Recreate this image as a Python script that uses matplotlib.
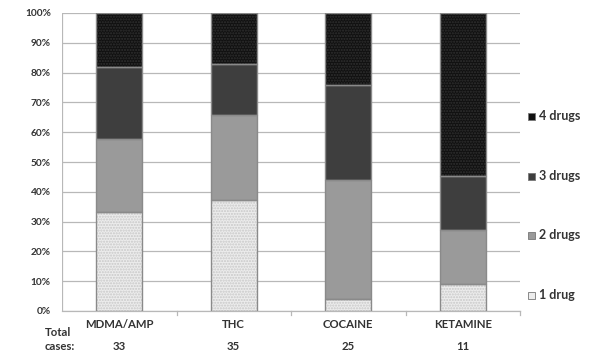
import matplotlib
matplotlib.use("Agg")
import matplotlib.pyplot as plt
import numpy as np

categories = ["MDMA/AMP", "THC", "COCAINE", "KETAMINE"]
totals = [33, 35, 25, 11]
one_drug = [11, 13, 1, 1]
two_drugs = [8, 10, 10, 2]
three_drugs = [8, 6, 8, 2]
four_drugs = [6, 6, 6, 6]
series_names = ["1 drug", "2 drugs", "3 drugs", "4 drugs"]

plt.rcParams['font.family'] = ['Lato', 'DejaVu Sans']

fig = plt.figure(figsize=(5.93, 3.59), dpi=100)
ax = fig.add_axes([62/593, 1-311/359, 458/593, 298/359])

series = [one_drug, two_drugs, three_drugs, four_drugs]
faces = ["#ececec", "#9a9a9a", "#3e3e3e", "#111111"]
hatchcols = ["#c8c8c8", "#8c8c8c", "#383838", "#303030"]
hatches = ["......", "", "", "......"]

x = np.arange(len(categories))
width = 0.40
bottom = np.zeros(len(categories))
tot = np.array(totals, dtype=float)
for vals, fc, hc, h, name in zip(series, faces, hatchcols, hatches, series_names):
    pct = np.array(vals) / tot * 100
    ax.bar(x, pct, width, bottom=bottom, color=fc, edgecolor=hc, hatch=h,
           linewidth=0, zorder=3)
    ax.bar(x, pct, width, bottom=bottom, fill=False, edgecolor="#8a8a8a",
           linewidth=1.0, zorder=4)
    bottom += pct

txtc = "#333333"
ax.set_xlim(-0.5, len(categories) - 0.5)
ax.set_ylim(0, 100)
ax.set_yticks(np.arange(0, 101, 10))
ax.set_yticklabels([f"{v}%" for v in range(0, 101, 10)], fontsize=7.3, fontweight='bold', color=txtc)
ax.set_xticks(x)
ax.set_xticklabels(categories, fontsize=8.2, fontweight='bold', color=txtc)
ax.tick_params(axis='y', length=0, pad=8)
ax.tick_params(axis='x', length=0, pad=6)
ax.grid(axis='y', color="#b8b8b8", linewidth=0.9, zorder=0)
for s in ["top", "right", "left"]:
    ax.spines[s].set_visible(False)
ax.spines["bottom"].set_color("#b8b8b8")
ax.spines["bottom"].set_linewidth(0.9)
ax.axvline(-0.5, color="#b8b8b8", linewidth=0.9, zorder=1)
for xb in [0.5, 1.5, 2.5, 3.5]:
    ax.plot([xb, xb], [0, -1.2], color="#b8b8b8", linewidth=0.9, clip_on=False)

# Total cases row
fig.text(45/593, 1-333/359, "Total", fontsize=8.2, fontweight='bold', color=txtc, va='center', ha='left')
fig.text(45/593, 1-347/359, "cases:", fontsize=8.2, fontweight='bold', color=txtc, va='center', ha='left')
for xi, t in zip(x, totals):
    xd = ax.transData.transform((xi, 0))[0]
    fig.text(xd / fig.bbox.width, 1-347/359, str(t), fontsize=8.2, fontweight='bold',
             color=txtc, va='center', ha='center')

# Legend
ly = [295, 235, 176, 116]
for name, fc, hc, h, y in zip(series_names, faces, hatchcols, hatches, ly):
    fig.patches.append(matplotlib.patches.Rectangle((528/593, 1-(y+3.5)/359), 7/593, 7/359,
                        transform=fig.transFigure, facecolor=fc, edgecolor="#777777",
                        linewidth=0.6))
    fig.text(539/593, 1-y/359, name, fontsize=9, fontweight='bold', color=txtc,
             va='center', ha='left')

fig.savefig("out.png", dpi=100)
